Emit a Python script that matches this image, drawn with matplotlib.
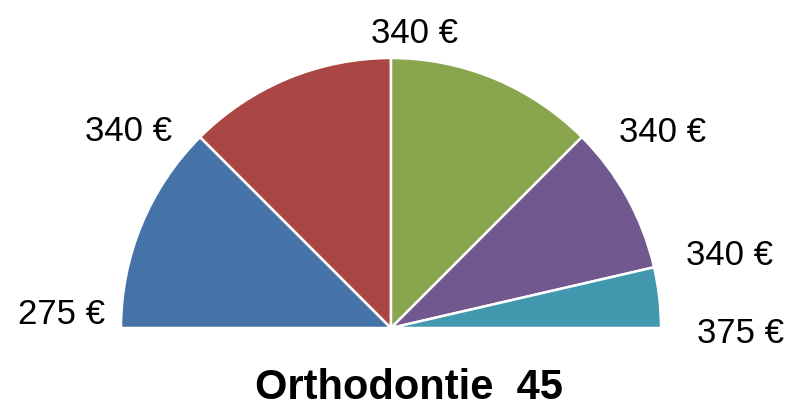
import numpy as np
import matplotlib
matplotlib.use("Agg")
import matplotlib.pyplot as plt

# half-pie: the visible wedges plus an invisible filler for the lower half
shares = [45, 45, 45, 32, 13]
colors = ["#4673A7", "#AA4644", "#89A54E", "#71588F", "#4198AF"]
price_labels = ["275 €", "340 €", "340 €", "340 €", "340 €", "375 €"]
title = "Orthodontie  45"

# label placement: baseline centre, polar (degrees, radii)
label_angle = [179.1, 144.4, 85.3, 34.6, 10.7, -2.3]
label_dist = [1.220, 1.196, 1.063, 1.222, 1.276, 1.294]

plt.rcParams["font.family"] = ["Liberation Sans", "DejaVu Sans"]
fig = plt.figure(figsize=(7.89, 4.02), dpi=100)
ax = fig.add_axes([0, 0, 1, 1])
ax.pie(shares + [sum(shares)], colors=colors + ["none"], startangle=180,
       counterclock=False, radius=1.0,
       wedgeprops=dict(edgecolor="white", linewidth=1.8))
ax.patches[-1].set_edgecolor("none")

for lab, a, d in zip(price_labels, label_angle, label_dist):
    t = np.deg2rad(a)
    ax.text(d * np.cos(t), d * np.sin(t), lab, ha="center", va="baseline",
            fontsize=25, color="black")

ax.text(0.067, -0.259, title, ha="center", va="baseline", fontsize=30,
        fontweight="bold")

# centre of the pie sits at (391, 329) px, radius 270 px
ax.set_aspect("auto")
ax.set_xlim(-391 / 270, (789 - 391) / 270)
ax.set_ylim(-(402 - 329) / 270, 329 / 270)
ax.axis("off")
fig.savefig("out.png", dpi=100)
